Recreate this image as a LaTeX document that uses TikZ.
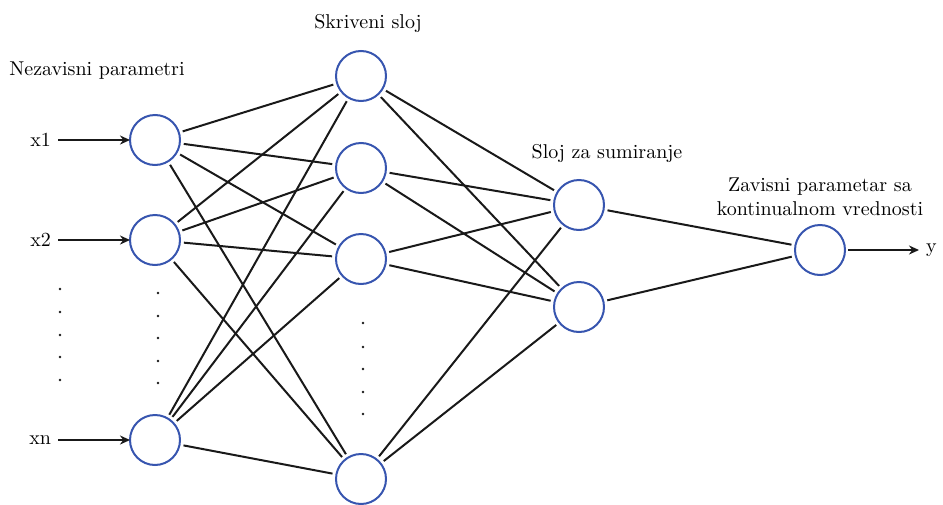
\documentclass[tikz,border=0pt]{standalone}
\usetikzlibrary{arrows.meta,positioning}
\definecolor{nblue}{RGB}{55,85,175}
\definecolor{wire}{RGB}{25,25,25}

\begin{document}
\begin{tikzpicture}[x=0.5pt, y=-0.5pt, node distance=25pt, neuron/.style={circle, draw=nblue, line width=1pt, minimum size=25pt, inner sep=0pt, outer sep=0pt}, link/.style={draw=wire, line width=1pt, shorten <=2pt, shorten >=2pt}, arr/.style={draw=wire, -{Stealth[length=5pt, width=4.5pt]}, line width=1pt}]
\useasboundingbox (0,0) rectangle (943,504);
% layers
\node[neuron] (i1) at (155,140) {};
\node[neuron, below=25pt of i1] (i2) {};
\node[neuron, below=75pt of i2] (in) {};
\node[neuron] (h1) at (361,76) {};
\node[neuron, below=21pt of h1] (h2) {};
\node[neuron, below=20.5pt of h2] (h3) {};
\node[neuron, below=85pt of h3] (h4) {};
\node[neuron] (s1) at (579,205) {};
\node[neuron, below=26pt of s1] (s2) {};
\node[neuron] (o) at (820,250) {};
% labels
\node (tin) at (97,71) {Nezavisni parametri};
\node (thid) at (368,23) {Skriveni sloj};
\node (tsum) at (607,153) {Sloj za sumiranje};
\node[align=center] (tout) at (820,197) {Zavisni parametar sa\\kontinualnom vrednosti};
\node[left=36pt of i1] (lx1) {x1};
\node[left=36pt of i2] (lx2) {x2};
\node[left=36pt of in] (lxn) {xn};
\node[right=37pt of o] (ly) {y};
% skipped neurons
\fill[wire] (60,289) circle (0.7pt) (60,312) circle (0.7pt) (60,335) circle (0.7pt) (60,357) circle (0.7pt) (60,380) circle (0.7pt);
\fill[wire] (158,293) circle (0.7pt) (158,316) circle (0.7pt) (158,338) circle (0.7pt) (158,361) circle (0.7pt) (158,383) circle (0.7pt);
\fill[wire] (363,323) circle (0.7pt) (363,347) circle (0.7pt) (363,369) circle (0.7pt) (363,392) circle (0.7pt) (363,414) circle (0.7pt);
% inputs and output
\draw[arr] (lx1) -- (i1); \draw[arr] (lx2) -- (i2); \draw[arr] (lxn) -- (in);
\draw[arr, shorten <=1.5pt] (o) -- (ly);
% input -> hidden
\draw[link] (i1) -- (h1); \draw[link] (i1) -- (h2); \draw[link] (i1) -- (h3); \draw[link] (i1) -- (h4);
\draw[link] (i2) -- (h1); \draw[link] (i2) -- (h2); \draw[link] (i2) -- (h3); \draw[link] (i2) -- (h4);
\draw[link] (in) -- (h1); \draw[link] (in) -- (h2); \draw[link] (in) -- (h3); \draw[link] (in) -- (h4);
% hidden -> summation
\draw[link] (h1) -- (s1); \draw[link] (h1) -- (s2); \draw[link] (h2) -- (s1); \draw[link] (h2) -- (s2);
\draw[link] (h3) -- (s1); \draw[link] (h3) -- (s2); \draw[link] (h4) -- (s1); \draw[link] (h4) -- (s2);
% summation -> output
\draw[link] (s1) -- (o); \draw[link] (s2) -- (o);
\end{tikzpicture}
\end{document}
